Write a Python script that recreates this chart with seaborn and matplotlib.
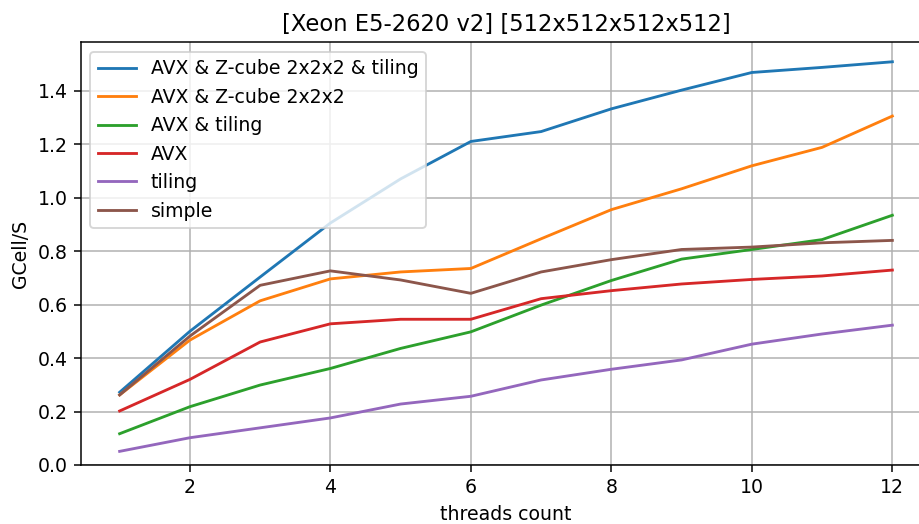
import matplotlib
matplotlib.use("Agg")
import matplotlib.pyplot as plt
import seaborn as sns
import pandas as pd

threads = [1, 2, 3, 4, 5, 6, 7, 8, 9, 10, 11, 12]
series_names = ["AVX & Z-cube 2x2x2 & tiling", "AVX & Z-cube 2x2x2", "AVX & tiling",
                "AVX", "tiling", "simple"]
avx_z_tiling = [0.272, 0.500, 0.703, 0.905, 1.070, 1.210, 1.247, 1.332, 1.402, 1.468, 1.487, 1.508]
avx_z = [0.262, 0.467, 0.614, 0.696, 0.722, 0.735, 0.846, 0.955, 1.033, 1.119, 1.188, 1.305]
avx_tiling = [0.117, 0.218, 0.299, 0.361, 0.436, 0.498, 0.598, 0.690, 0.770, 0.806, 0.843, 0.934]
avx = [0.202, 0.320, 0.460, 0.528, 0.545, 0.545, 0.622, 0.652, 0.677, 0.694, 0.707, 0.729]
tiling = [0.051, 0.102, 0.139, 0.176, 0.228, 0.257, 0.318, 0.358, 0.393, 0.452, 0.490, 0.523]
simple = [0.262, 0.482, 0.672, 0.726, 0.692, 0.642, 0.722, 0.768, 0.806, 0.815, 0.831, 0.840]

values = [avx_z_tiling, avx_z, avx_tiling, avx, tiling, simple]
df = pd.DataFrame({
    "threads": threads * len(series_names),
    "value": [v for s in values for v in s],
    "series": [n for n in series_names for _ in threads],
})

DPI = 136
plt.rcParams.update(matplotlib.rcParamsDefault)
fig = plt.figure(figsize=(919 / DPI, 524 / DPI), dpi=DPI)
ax = fig.add_axes([81 / 919, 1 - 465 / 524, 850 / 919, (465 - 42.3) / 524])
sns.lineplot(data=df, x="threads", y="value", hue="series", hue_order=series_names,
             palette="tab10", ax=ax, linewidth=1.5)
ax.set_ylim(bottom=0)
ax.grid(True)
ax.set_xlabel("threads count")
ax.set_ylabel("GCell/S")
ax.set_title("[Xeon E5-2620 v2] [512x512x512x512]")
ax.legend(loc="upper left", title=None)
fig.savefig("out.png", dpi=DPI)
